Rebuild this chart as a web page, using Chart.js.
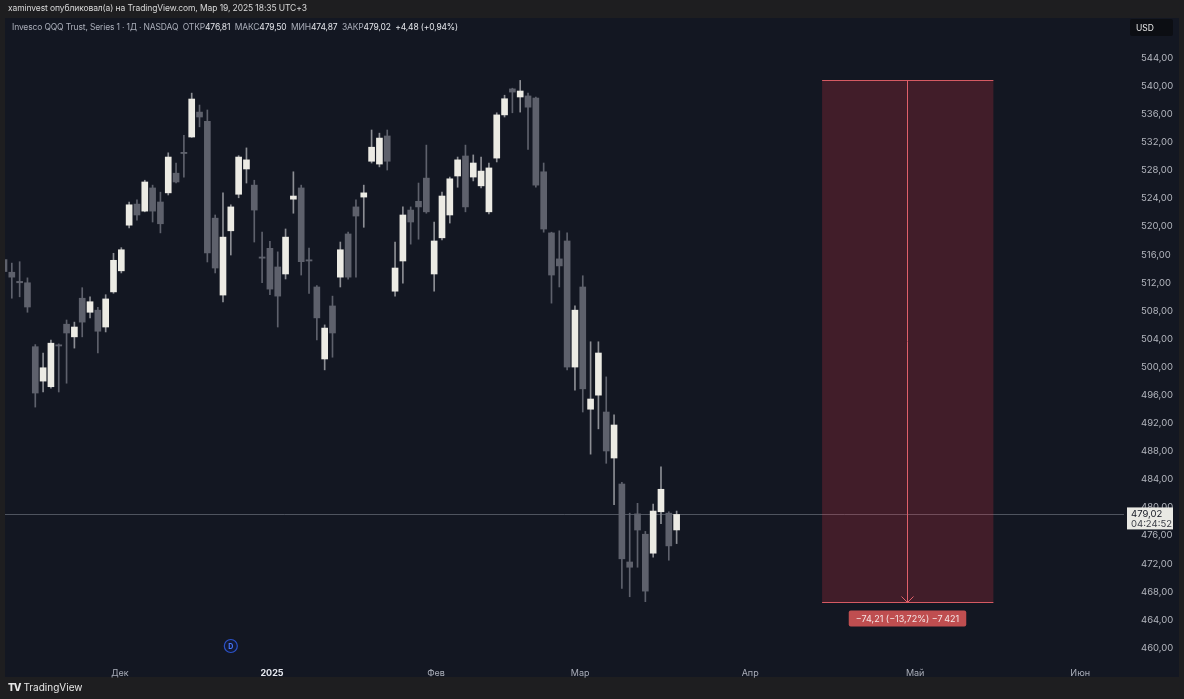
<!DOCTYPE html>
<html><head><meta charset="utf-8">
<script src="https://cdn.jsdelivr.net/npm/chart.js@4.4.1/dist/chart.umd.min.js"></script>
<style>
html,body{margin:0;padding:0;background:#1e1e20;width:1184px;height:699px;overflow:hidden;font-family:Inter,"Noto Sans",sans-serif;}
#panel{position:absolute;left:5px;top:18px;width:1174px;height:659px;background:#131722;}
#c{position:absolute;left:0;top:0;}
#hdr{position:absolute;left:8px;top:3px;color:#d8d8d8;font-size:8.5px;letter-spacing:-0.1px;}
#legend{position:absolute;left:12px;top:22px;font-size:8.5px;letter-spacing:-0.15px;color:#a9adb8;white-space:pre;}
#legend b{font-weight:normal;color:#e3e5ea;}
#brand{position:absolute;left:8px;top:681px;color:#e6e6e6;font-size:10px;}
#brand span{font-weight:800;margin-right:3px;letter-spacing:-1px;}
</style></head>
<body>
<div id="panel"></div>
<canvas id="c" width="1184" height="699"></canvas>
<div id="hdr">xaminvest опубликовал(а) на TradingView.com, Мар 19, 2025 18:35 UTC+3</div>
<div id="legend">Invesco QQQ Trust, Series 1 · 1Д · NASDAQ  ОТКР<b>476,81</b>  МАКС<b>479,50</b>  МИН<b>474,87</b>  ЗАКР<b>479,02</b>  <b>+4,48 (+0,94%)</b></div>
<div id="brand"><span>TV</span>TradingView</div>
<script>
// Daily candles QQQ, Nov 11 2024 .. Mar 19 2025 (index = bar number)
const opens  = [515.3,513.5,512.2,512.0,502.9,498.0,497.2,503.1,506.1,504.3,509.8,507.8,508.1,505.7,510.7,513.7,520.2,523.2,522.2,525.5,523.5,524.8,527.6,530.5,532.75,536.3,535.0,521.2,510.25,519.4,524.6,528.2,525.9,515.6,516.9,514.25,513.25,523.9,525.5,515.2,511.4,501.15,508.7,512.8,518.95,522.8,524.2,529.3,528.9,532.9,510.8,515.1,522.35,523.6,526.9,513.25,518.4,521.65,527.2,530.05,527.05,525.8,522.1,529.75,535.9,539.6,538.45,538.6,538.3,527.8,519.1,515.4,517.95,500.0,511.4,494.0,496.0,493.6,487.05,483.35,472.25,479.1,476.2,473.5,479.4,479.2,476.81];
const highs  = [517.2,514.8,515.0,512.7,503.2,502.0,503.85,503.3,506.7,506.4,511.3,510.0,508.5,510.3,516.2,517.0,523.5,523.8,526.6,525.9,524.9,530.5,529.05,533.0,539.0,537.3,536.6,521.65,524.8,523.1,530.1,531.2,526.6,519.2,517.9,516.4,519.66,527.8,525.9,516.95,511.6,506.0,510.1,517.8,519.2,523.8,525.9,533.75,533.3,533.75,517.8,522.8,522.8,526.2,531.6,520.65,524.9,527.05,529.9,531.6,530.2,529.9,529.05,536.2,538.7,539.7,540.81,539.0,538.45,529.05,519.2,519.4,519.1,508.7,513.0,503.6,503.6,498.6,493.2,483.6,479.2,480.6,476.6,480.5,485.8,479.4,479.50];
const lows   = [511.5,509.8,510.0,507.8,494.3,496.45,497.0,496.45,497.7,502.7,504.3,507.0,502.0,505.0,510.5,513.4,519.8,520.9,522.1,520.65,519.1,524.5,526.2,527.05,532.7,534.2,514.96,513.4,509.26,515.95,524.1,526.2,517.8,512.0,510.3,505.7,512.54,521.9,513.1,510.5,503.85,499.6,501.4,511.4,512.5,512.8,519.9,529.05,528.5,528.05,510.1,511.95,517.5,518.2,521.9,510.8,518.1,520.5,525.6,522.1,526.5,525.5,521.8,529.2,535.6,536.2,536.3,531.0,525.6,519.2,509.1,511.4,499.6,496.7,493.6,487.6,491.2,486.3,480.4,468.5,467.3,471.5,466.6,472.95,477.7,472.5,474.87];
const closes = [513.6,512.8,512.0,508.55,496.3,499.9,503.4,503.0,504.85,505.7,506.4,509.3,505.1,509.7,515.2,516.7,523.1,521.65,526.35,522.2,520.4,529.9,526.35,530.4,538.16,535.6,516.24,514.1,518.5,522.8,529.9,529.5,522.35,515.5,511.1,510.1,518.5,524.35,515.0,515.1,507.0,505.55,504.85,516.7,512.8,521.5,524.8,531.3,532.6,529.3,514.1,521.65,520.65,522.8,522.1,517.95,524.35,526.8,529.5,522.8,529.05,527.9,528.35,535.9,538.2,539.15,539.3,537.0,525.9,519.65,513.1,514.4,500.0,508.1,496.9,495.45,502.0,488.05,491.75,472.7,471.5,476.8,468.1,479.5,482.6,474.54,479.02];

// price-axis tick labels and time-axis month labels (bar-number positions)
const priceTicks = [460,464,468,472,476,480,484,488,492,496,500,504,508,512,516,520,524,528,532,536,540,544];
const monthLabels = ['Дек','2025','Фев','Мар','Апр','Май','Июн'];
const monthPos    = [14.83,34.27,55.24,73.66,95.4,116.5,137.6];

// price-range measurement drawn on the chart (bar numbers), dividend marker bar
const measureBars = [104.6,126.5];
const measureArrowBar = 115.5;
const dividendBar = 29;
const timeToClose = '04:24:52';

const UP = '#ecebe4', DOWN = '#5e616c', UPW = '#8c8e94', DOWNW = '#5e616c';
const idx = closes.map((_, i) => i);
const isUp = i => closes[i] >= opens[i];
const fmt = v => v.toFixed(2).replace('.', ',');
const fmtS = v => (v < 0 ? '\u2212' : '+') + fmt(Math.abs(v));

const overlay = {
  id: 'overlay',
  beforeDatasetsDraw(chart) {
    const {ctx, chartArea: a, scales: {y}} = chart;
    const py = Math.round(y.getPixelForValue(closes[closes.length - 1])) + 0.5;
    ctx.save();
    ctx.strokeStyle = 'rgba(130,134,146,0.55)'; ctx.lineWidth = 1;
    ctx.beginPath(); ctx.moveTo(a.left, py); ctx.lineTo(a.right, py); ctx.stroke();
    ctx.restore();
  },
  afterDatasetsDraw(chart) {
    const {ctx, scales: {x, y}} = chart;
    const hi = Math.max(...highs), lo = Math.min(...lows);
    const x0 = x.getPixelForValue(measureBars[0]), x1 = x.getPixelForValue(measureBars[1]);
    const yt = Math.round(y.getPixelForValue(hi)) + 0.5, yb = Math.round(y.getPixelForValue(lo)) + 0.5;
    const xa = Math.round(x.getPixelForValue(measureArrowBar)) + 0.5;
    ctx.save();
    ctx.fillStyle = 'rgba(242,54,69,0.21)';
    ctx.fillRect(x0, yt, x1 - x0, yb - yt);
    ctx.strokeStyle = '#d65a63'; ctx.lineWidth = 1;
    ctx.beginPath(); ctx.moveTo(x0, yt); ctx.lineTo(x1, yt); ctx.moveTo(x0, yb); ctx.lineTo(x1, yb); ctx.stroke();
    ctx.strokeStyle = '#e0606a';
    ctx.beginPath(); ctx.moveTo(xa, yt); ctx.lineTo(xa, yb); ctx.stroke();
    ctx.beginPath(); ctx.moveTo(xa - 6, yb - 6); ctx.lineTo(xa, yb); ctx.lineTo(xa + 6, yb - 6); ctx.stroke();
    // label
    const d = lo - hi, pct = d / hi * 100, t = Math.round(d * 100);
    const tStr = '\u2212' + Math.abs(t).toString().replace(/\B(?=(\d{3})+(?!\d))/g, '\u202f');
    const txt = fmtS(d) + ' (' + fmtS(pct).replace('+', '') + '%) ' + tStr;
    ctx.font = '9px Inter, "Noto Sans", sans-serif';
    const w = ctx.measureText(txt).width + 14;
    ctx.fillStyle = '#bf4e50';
    const lx = xa - w / 2, ly = yb + 8;
    ctx.beginPath(); ctx.roundRect(lx, ly, w, 16, 2); ctx.fill();
    ctx.fillStyle = '#f4e6e6'; ctx.textAlign = 'center'; ctx.textBaseline = 'middle';
    ctx.fillText(txt, xa, ly + 8.5);
    // dividend marker
    const dx = x.getPixelForValue(dividendBar), dy = 646;
    ctx.beginPath(); ctx.arc(dx, dy, 6.5, 0, Math.PI * 2);
    ctx.fillStyle = '#131a33'; ctx.fill();
    ctx.strokeStyle = '#2c52c9'; ctx.lineWidth = 1.2; ctx.stroke();
    ctx.fillStyle = '#4a78ff'; ctx.font = 'bold 7px Inter, sans-serif';
    ctx.fillText('D', dx, dy + 0.5);
    ctx.restore();
  },
  afterDraw(chart) {
    const {ctx, chartArea: a, scales: {y}} = chart;
    const py = y.getPixelForValue(closes[closes.length - 1]);
    ctx.save();
    ctx.fillStyle = '#e9e9e4';
    ctx.fillRect(a.right + 3, py - 7, 46, 22);
    ctx.textAlign = 'left'; ctx.textBaseline = 'middle';
    ctx.fillStyle = '#131722'; ctx.font = '9.5px Inter, sans-serif';
    ctx.fillText(fmt(closes[closes.length - 1]), a.right + 7, py - 0.5);
    ctx.fillStyle = '#3a3d45';
    ctx.fillText(timeToClose, a.right + 7, py + 9.5);
    // currency box
    ctx.fillStyle = '#0c0e13';
    ctx.beginPath(); ctx.roundRect(a.right + 6, 19, 43, 17, 2); ctx.fill();
    ctx.fillStyle = '#e8e8e8'; ctx.font = '8.5px Inter, sans-serif';
    ctx.fillText('USD', a.right + 12, 28);
    ctx.restore();
  }
};

new Chart(document.getElementById('c'), {
  type: 'bar',
  data: {
    datasets: [
      {
        label: 'body',
        data: idx.map(i => ({x: i, y: [opens[i], closes[i]]})),
        backgroundColor: c => isUp(c.dataIndex) ? UP : DOWN,
        barThickness: 6, minBarLength: 1.2, grouped: false, borderWidth: 0
      },
      {
        label: 'wick',
        data: idx.map(i => ({x: i, y: [lows[i], highs[i]]})),
        backgroundColor: c => isUp(c.dataIndex) ? UPW : DOWNW,
        barThickness: 1, grouped: false, borderWidth: 0
      }
    ]
  },
  options: {
    responsive: false, animation: false, devicePixelRatio: 1,
    layout: {padding: {left: 5, top: 40, right: 4, bottom: 19}},
    plugins: {legend: {display: false}, tooltip: {enabled: false}},
    scales: {
      x: {
        type: 'linear', min: 0.128, max: 143.2, offset: false,
        grid: {display: false}, border: {display: false},
        afterBuildTicks: s => { s.ticks = monthPos.map(v => ({value: v})); },
        afterFit: s => { s.height = 24; },
        ticks: {
          autoSkip: false, maxRotation: 0, padding: 4,
          callback: (v, i) => monthLabels[i],
          color: c => c.index === 1 ? '#e6e8ee' : '#a9adb8',
          font: c => ({family: 'Inter, "Noto Sans", sans-serif', size: 9, weight: c.index === 1 ? 'bold' : 'normal'})
        }
      },
      y: {
        position: 'right', min: 458.864, max: 546.563,
        grid: {display: false}, border: {display: false},
        afterBuildTicks: s => { s.ticks = priceTicks.map(v => ({value: v})); },
        afterFit: s => { s.width = 56; },
        ticks: {
          padding: 9, color: '#b4b7bf', callback: v => fmt(v),
          font: {family: 'Inter, "Noto Sans", sans-serif', size: 9.5}
        }
      }
    }
  },
  plugins: [overlay]
});
</script>
</body></html>
